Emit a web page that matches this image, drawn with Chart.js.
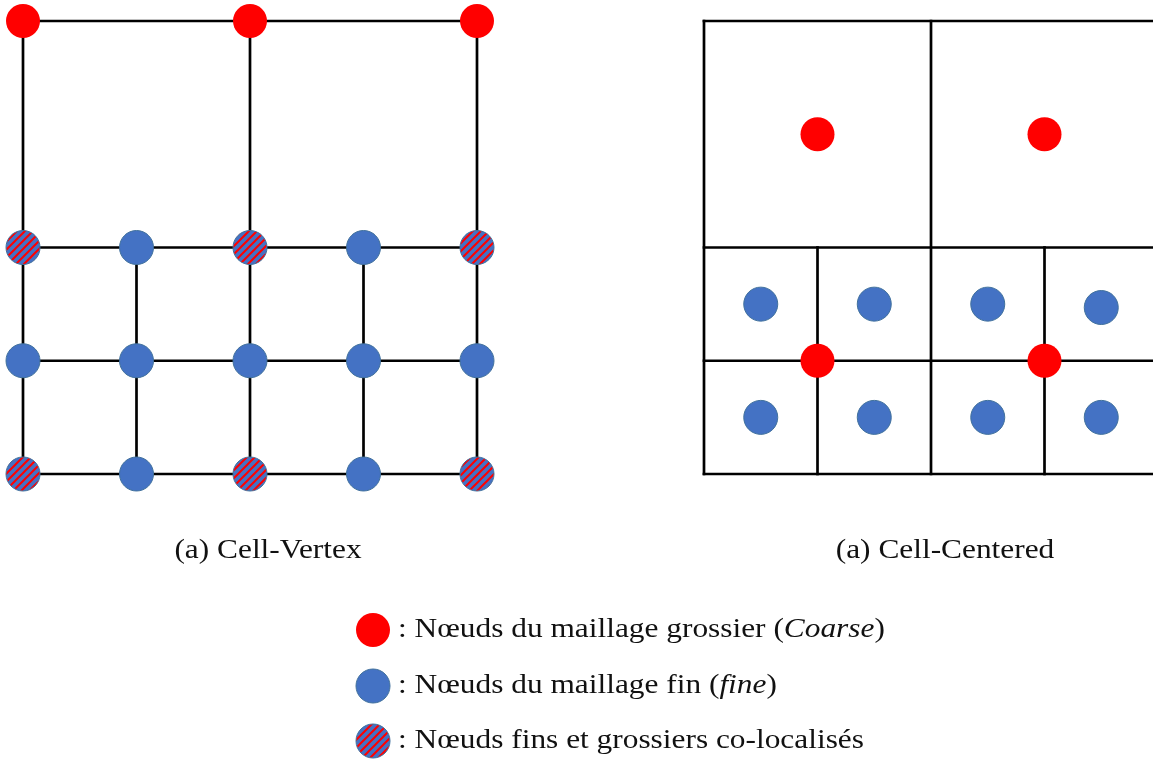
<!DOCTYPE html>
<html>
<head>
<meta charset="utf-8">
<script src="https://cdn.jsdelivr.net/npm/chart.js@4.4.0/dist/chart.umd.min.js"></script>
<style>
  html, body { margin: 0; padding: 0; background: #fff; }
  #wrap { width: 1153px; height: 760px; position: relative; }
</style>
</head>
<body>
<div id="wrap"><canvas id="mesh"></canvas></div>
<script>
  // coordonnees en mailles fines (1 = une maille fine)
  const vertexCoarse = [[0, 4], [2, 4], [4, 4]];
  const vertexFine = [[1, 2], [3, 2], [0, 1], [1, 1], [2, 1], [3, 1], [4, 1], [1, 0], [3, 0]];
  const vertexShared = [[0, 2], [2, 2], [4, 2], [0, 0], [2, 0], [4, 0]];
  const centeredCoarse = [[7, 3], [9, 3], [7, 1], [9, 1]];
  const centeredFine = [[6.5, 1.5], [7.5, 1.5], [8.5, 1.5], [9.5, 1.47], [6.5, 0.5], [7.5, 0.5], [8.5, 0.5], [9.5, 0.5]];

  // aretes [x1, y1, x2, y2]
  const vertexEdges = [
    [0, 4, 4, 4], [0, 2, 4, 2], [0, 1, 4, 1], [0, 0, 4, 0],
    [0, 0, 0, 4], [2, 0, 2, 4], [4, 0, 4, 4], [1, 0, 1, 2], [3, 0, 3, 2]
  ];
  const centeredEdges = [
    [6, 4, 10, 4], [6, 2, 10, 2], [6, 1, 10, 1], [6, 0, 10, 0],
    [6, 0, 6, 4], [8, 0, 8, 4], [10, 0, 10, 4], [7, 0, 7, 2], [9, 0, 9, 2]
  ];

  const captions = ['(a) Cell-Vertex', '(a) Cell-Centered'];
  const legendKinds = ['coarse', 'fine', 'shared'];
  const legendTexts = [
    [[': Nœuds du maillage grossier (', false], ['Coarse', true], [')', false]],
    [[': Nœuds du maillage fin (', false], ['fine', true], [')', false]],
    [[': Nœuds fins et grossiers co-localisés', false]]
  ];

  const RED = '#ff0000';
  const BLUE = '#4472c4';
  const FONT = '"Liberation Serif", "DejaVu Serif", serif';
  const SX = 1.12; // police un peu elargie, facon Computer Modern

  // hachures rouges sur fond bleu
  function makeStripes() {
    const c = document.createElement('canvas');
    c.width = 8; c.height = 8;
    const g = c.getContext('2d');
    g.fillStyle = BLUE;
    g.fillRect(0, 0, 8, 8);
    g.strokeStyle = RED;
    g.lineWidth = 2;
    g.beginPath();
    g.moveTo(-1, 9); g.lineTo(9, -1);
    g.moveTo(-1, 1); g.lineTo(1, -1);
    g.moveTo(7, 9); g.lineTo(9, 7);
    g.stroke();
    return g.createPattern(c, 'repeat');
  }
  const stripes = makeStripes();

  const toPts = arr => arr.map(p => ({ x: p[0], y: p[1] }));

  const edgeSets = vertexEdges.concat(centeredEdges).map(e => ({
    type: 'scatter',
    data: [{ x: e[0], y: e[1] }, { x: e[2], y: e[3] }],
    showLine: true,
    borderColor: '#000',
    borderWidth: 2.7,
    borderCapStyle: 'square',
    pointRadius: 0,
    order: 2
  }));

  function nodes(arr, fill, border, bw) {
    return {
      type: 'scatter',
      data: toPts(arr),
      pointRadius: 17,
      pointHoverRadius: 17,
      backgroundColor: fill,
      borderColor: border,
      borderWidth: bw,
      clip: false,
      order: 1
    };
  }

  // texte elargi horizontalement
  function wideText(ctx, txt, x, y, align) {
    const w = ctx.measureText(txt).width * SX;
    let left = x;
    if (align === 'center') left = x - w / 2;
    ctx.save();
    ctx.textAlign = 'left';
    ctx.translate(left, y);
    ctx.scale(SX, 1);
    ctx.fillText(txt, 0, 0);
    ctx.restore();
    return w;
  }

  const textPlugin = {
    id: 'textPlugin',
    afterDraw(chart) {
      const ctx = chart.ctx;
      ctx.save();
      ctx.fillStyle = '#111';
      ctx.textBaseline = 'middle';
      ctx.font = '28px ' + FONT;
      wideText(ctx, captions[0], 268, 551, 'center');
      wideText(ctx, captions[1], 945, 551, 'center');

      const rowY = [630, 686, 741];
      legendKinds.forEach((k, i) => {
        ctx.beginPath();
        ctx.arc(373, rowY[i], 17, 0, Math.PI * 2);
        ctx.fillStyle = k === 'coarse' ? RED : (k === 'fine' ? BLUE : stripes);
        ctx.fill();
        if (k !== 'coarse') {
          ctx.lineWidth = 1;
          ctx.strokeStyle = '#41719c';
          ctx.stroke();
        }
        let x = 398;
        ctx.fillStyle = '#111';
        legendTexts[i].forEach(part => {
          ctx.font = (part[1] ? 'italic ' : '') + '28px ' + FONT;
          x += wideText(ctx, part[0], x, rowY[i], 'left');
        });
      });
      ctx.restore();
    }
  };

  const meshChart = new Chart(document.getElementById('mesh').getContext('2d'), {
    type: 'scatter',
    data: {
      datasets: edgeSets.concat([
        nodes(vertexCoarse, RED, RED, 0),
        nodes(vertexFine, BLUE, '#41719c', 1),
        nodes(vertexShared, stripes, '#41719c', 1),
        nodes(centeredCoarse, RED, RED, 0),
        nodes(centeredFine, BLUE, '#41719c', 1)
      ])
    },
    options: {
      responsive: true,
      maintainAspectRatio: false,
      animation: false,
      events: [],
      layout: { padding: 0, autoPadding: false },
      plugins: { legend: { display: false }, tooltip: { enabled: false } },
      scales: {
        x: { type: 'linear', display: false, min: -23 / 113.5, max: (1153 - 23) / 113.5 },
        y: { type: 'linear', display: false, min: (474 - 760) / 113.25, max: 474 / 113.25 }
      }
    },
    plugins: [textPlugin]
  });
</script>
</body>
</html>
